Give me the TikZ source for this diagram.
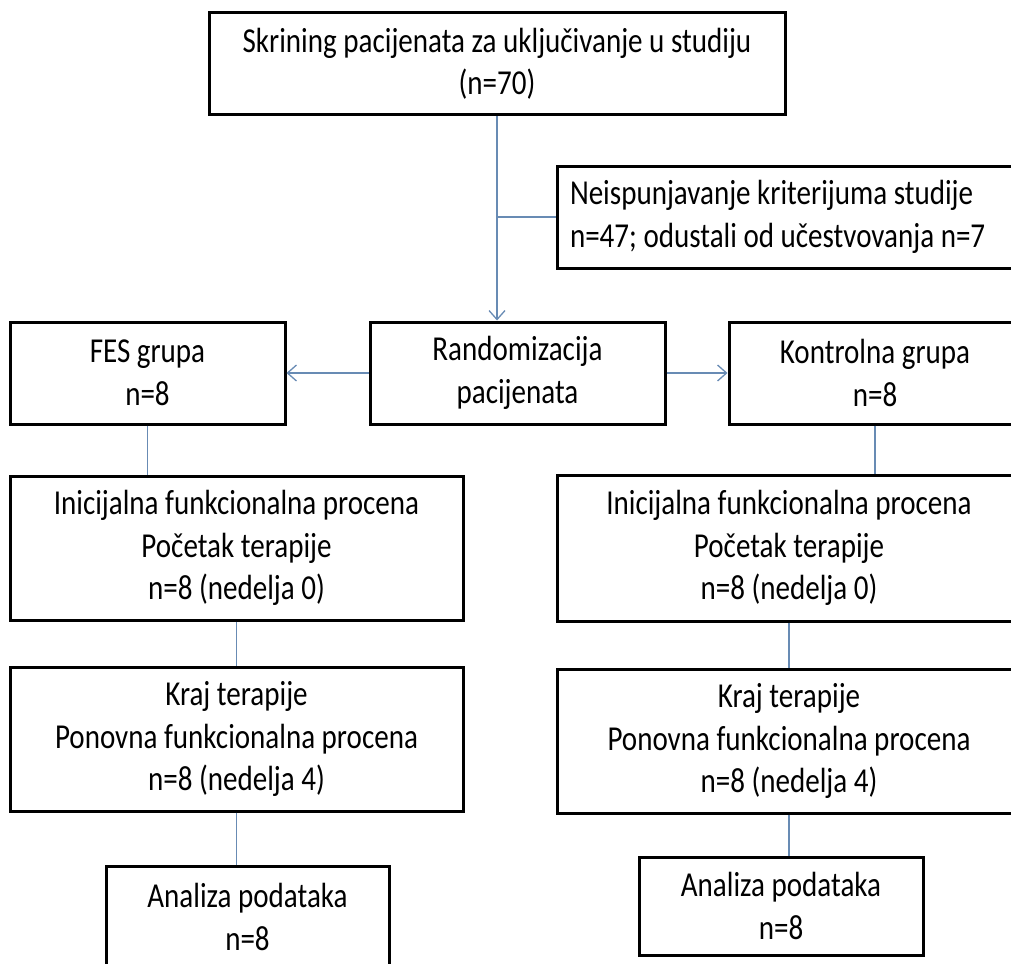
\documentclass[tikz,border=0pt]{standalone}
\usepackage{fontspec}
\usepackage{tikz}
\usetikzlibrary{arrows.meta,positioning}
\newfontfamily\boxfont[FakeStretch=0.83]{Carlito}
\definecolor{Wire}{RGB}{104,139,180}

\begin{document}
\begin{tikzpicture}[x=1pt,y=-1pt,>={Straight Barb[length=9pt,width=16pt]},
    stage/.style={draw,line width=3pt,fill=white,inner sep=0pt,align=center,
      font=\boxfont\fontsize{35}{42.5}\selectfont},
    note/.style={stage,align=flush left,inner xsep=13pt},
    link/.style={draw=Wire,line width=1.3pt}]
  \useasboundingbox (0,0) rectangle (1011,963);
  \clip (0,0) rectangle (1011,963);
  % screening and exclusion
  \node[stage,minimum width=576pt,minimum height=102pt] (screen) at (497,64)
    {Skrining pacijenata za uključivanje u studiju\\(n=70)};
  \node[note,text width=447pt,minimum height=102pt] (excl) at (793.5,217)
    {Neispunjavanje kriterijuma studije\\n=47; odustali od učestvovanja n=7};
  % randomisation row
  \node[stage,minimum width=295pt,minimum height=102pt] (rand) at (517.5,373) {Randomizacija\\pacijenata};
  \node[stage,minimum width=275pt,minimum height=102pt] (fes) at (147.5,373) {FES grupa\\n=8};
  \node[stage,minimum width=292pt,minimum height=102pt] (ctrl) at (875,373) {Kontrolna grupa\\n=8};
  % FES column
  \node[stage,minimum width=453pt,minimum height=144pt] (init1) at (236.5,548)
    {Inicijalna funkcionalna procena\\Početak terapije\\n=8 (nedelja 0)};
  \node[stage,minimum width=453pt,minimum height=144pt] (end1) at (236.5,739)
    {Kraj terapije\\Ponovna funkcionalna procena\\n=8 (nedelja 4)};
  \node[stage,minimum width=283pt,minimum height=102pt] (ana1) at (247.5,917) {Analiza podataka\\n=8};
  % control column
  \node[stage,minimum width=464pt,minimum height=146pt] (init2) at (789,548)
    {Inicijalna funkcionalna procena\\Početak terapije\\n=8 (nedelja 0)};
  \node[stage,minimum width=464pt,minimum height=144pt] (end2) at (789,741)
    {Kraj terapije\\Ponovna funkcionalna procena\\n=8 (nedelja 4)};
  \node[stage,minimum width=284pt,minimum height=98pt] (ana2) at (781,906) {Analiza podataka\\n=8};
  % connectors
  \draw[link,->] (screen.south) -- (screen.south |- rand.north);
  \draw[link] (screen.south |- excl.west) -- (excl.west);
  \draw[link,->] (rand.west) -- (fes.east);
  \draw[link,->] (rand.east) -- (ctrl.west);
  \draw[link] (fes.south) -- (fes.south |- init1.north);
  \draw[link] (init1.south) -- (end1.north);
  \draw[link] (end1.south) -- (end1.south |- ana1.north);
  \draw[link] (ctrl.south) -- (ctrl.south |- init2.north);
  \draw[link] (init2.south) -- (end2.north);
  \draw[link] (end2.south) -- (end2.south |- ana2.north);
\end{tikzpicture}
\end{document}
